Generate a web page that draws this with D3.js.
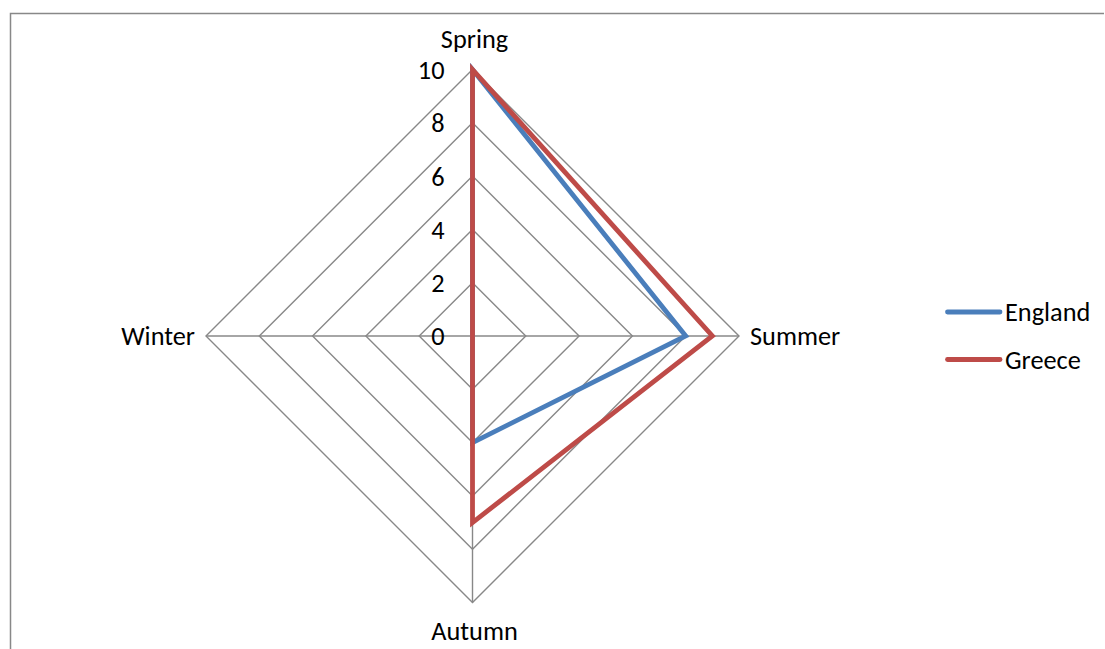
<!DOCTYPE html>
<html>
<head>
<meta charset="utf-8">
<script src="https://cdn.jsdelivr.net/npm/d3@7"></script>
<style>
  html, body { margin: 0; padding: 0; background: #fff; }
  svg { display: block; font-family: Carlito, "Open Sans", "Liberation Sans", sans-serif; }
</style>
</head>
<body>
<svg id="chart" width="1105" height="649"></svg>
<script>
// Seasons around the radar, clockwise from the top
const seasons = ["Spring", "Summer", "Autumn", "Winter"];
const englandValues = [10, 8, 4, 0];
const greeceValues = [10, 9, 7, 0];
const tickValues = [0, 2, 4, 6, 8, 10];
const seriesNames = ["England", "Greece"];
const seriesColors = ["#4A7EBB", "#BE4B48"];

const series = [
  { name: seriesNames[0], values: englandValues, color: seriesColors[0] },
  { name: seriesNames[1], values: greeceValues, color: seriesColors[1] }
];

const fontSize = 26.3;
const svg = d3.select("#chart");
const cx = 472.5, cy = 336, radius = 266.5;

// outer chart frame
svg.append("path")
  .attr("d", "M10.5,649 V13.5 H1104")
  .attr("fill", "none")
  .attr("stroke", "#888")
  .attr("stroke-width", 1.5);

const r = d3.scaleLinear().domain([0, 10]).range([0, radius]);
const angle = d3.scalePoint().domain(seasons).range([0, 2 * Math.PI * (seasons.length - 1) / seasons.length]);

const g = svg.append("g").attr("transform", `translate(${cx},${cy})`);

const radial = d3.lineRadial()
  .angle(d => angle(d.season))
  .radius(d => r(d.value))
  .curve(d3.curveLinearClosed);

// grid rings
g.selectAll(".ring")
  .data(tickValues.filter(t => t > 0))
  .join("path")
  .attr("class", "ring")
  .attr("d", t => radial(seasons.map(s => ({ season: s, value: t }))))
  .attr("fill", "none")
  .attr("stroke", "#888")
  .attr("stroke-width", 1.4);

// spokes
g.selectAll(".spoke")
  .data(seasons)
  .join("line")
  .attr("class", "spoke")
  .attr("x1", 0).attr("y1", 0)
  .attr("x2", s => r(10) * Math.sin(angle(s)))
  .attr("y2", s => -r(10) * Math.cos(angle(s)))
  .attr("stroke", "#888")
  .attr("stroke-width", 1.4);

// tick labels along the Spring axis
g.selectAll(".tick")
  .data(tickValues)
  .join("text")
  .attr("class", "tick")
  .attr("x", -28)
  .attr("y", t => -r(t))
  .attr("dy", "0.36em")
  .attr("text-anchor", "end")
  .attr("font-size", fontSize)
  .attr("fill", "#000")
  .text(t => t);

// season labels
const labelPos = {
  Spring: { dx: 2, dy: -31, anchor: "middle" },
  Summer: { dx: 11, dy: 0, anchor: "start" },
  Autumn: { dx: 2, dy: 28, anchor: "middle" },
  Winter: { dx: -11, dy: 0, anchor: "end" }
};
g.selectAll(".season")
  .data(seasons)
  .join("text")
  .attr("class", "season")
  .attr("x", s => r(10) * Math.sin(angle(s)) + labelPos[s].dx)
  .attr("y", s => -r(10) * Math.cos(angle(s)) + labelPos[s].dy)
  .attr("dy", "0.36em")
  .attr("text-anchor", s => labelPos[s].anchor)
  .attr("font-size", fontSize)
  .attr("fill", "#000")
  .text(s => s);

// data series
g.selectAll(".series")
  .data(series)
  .join("path")
  .attr("class", "series")
  .attr("d", d => radial(seasons.map((s, i) => ({ season: s, value: d.values[i] }))))
  .attr("fill", "none")
  .attr("stroke", d => d.color)
  .attr("stroke-width", 4.8)
  .attr("stroke-linejoin", "miter");

// legend
const legend = svg.append("g").attr("transform", "translate(946,312)");
const items = legend.selectAll(".item")
  .data(series)
  .join("g")
  .attr("class", "item")
  .attr("transform", (d, i) => `translate(0,${i * 47.5})`);
items.append("line")
  .attr("x1", 1.5).attr("x2", 54).attr("y1", 0).attr("y2", 0)
  .attr("stroke", d => d.color)
  .attr("stroke-width", 4.8)
  .attr("stroke-linecap", "round");
items.append("text")
  .attr("x", 59)
  .attr("y", 0)
  .attr("dy", "0.36em")
  .attr("font-size", fontSize)
  .attr("fill", "#000")
  .text(d => d.name);
</script>
</body>
</html>
